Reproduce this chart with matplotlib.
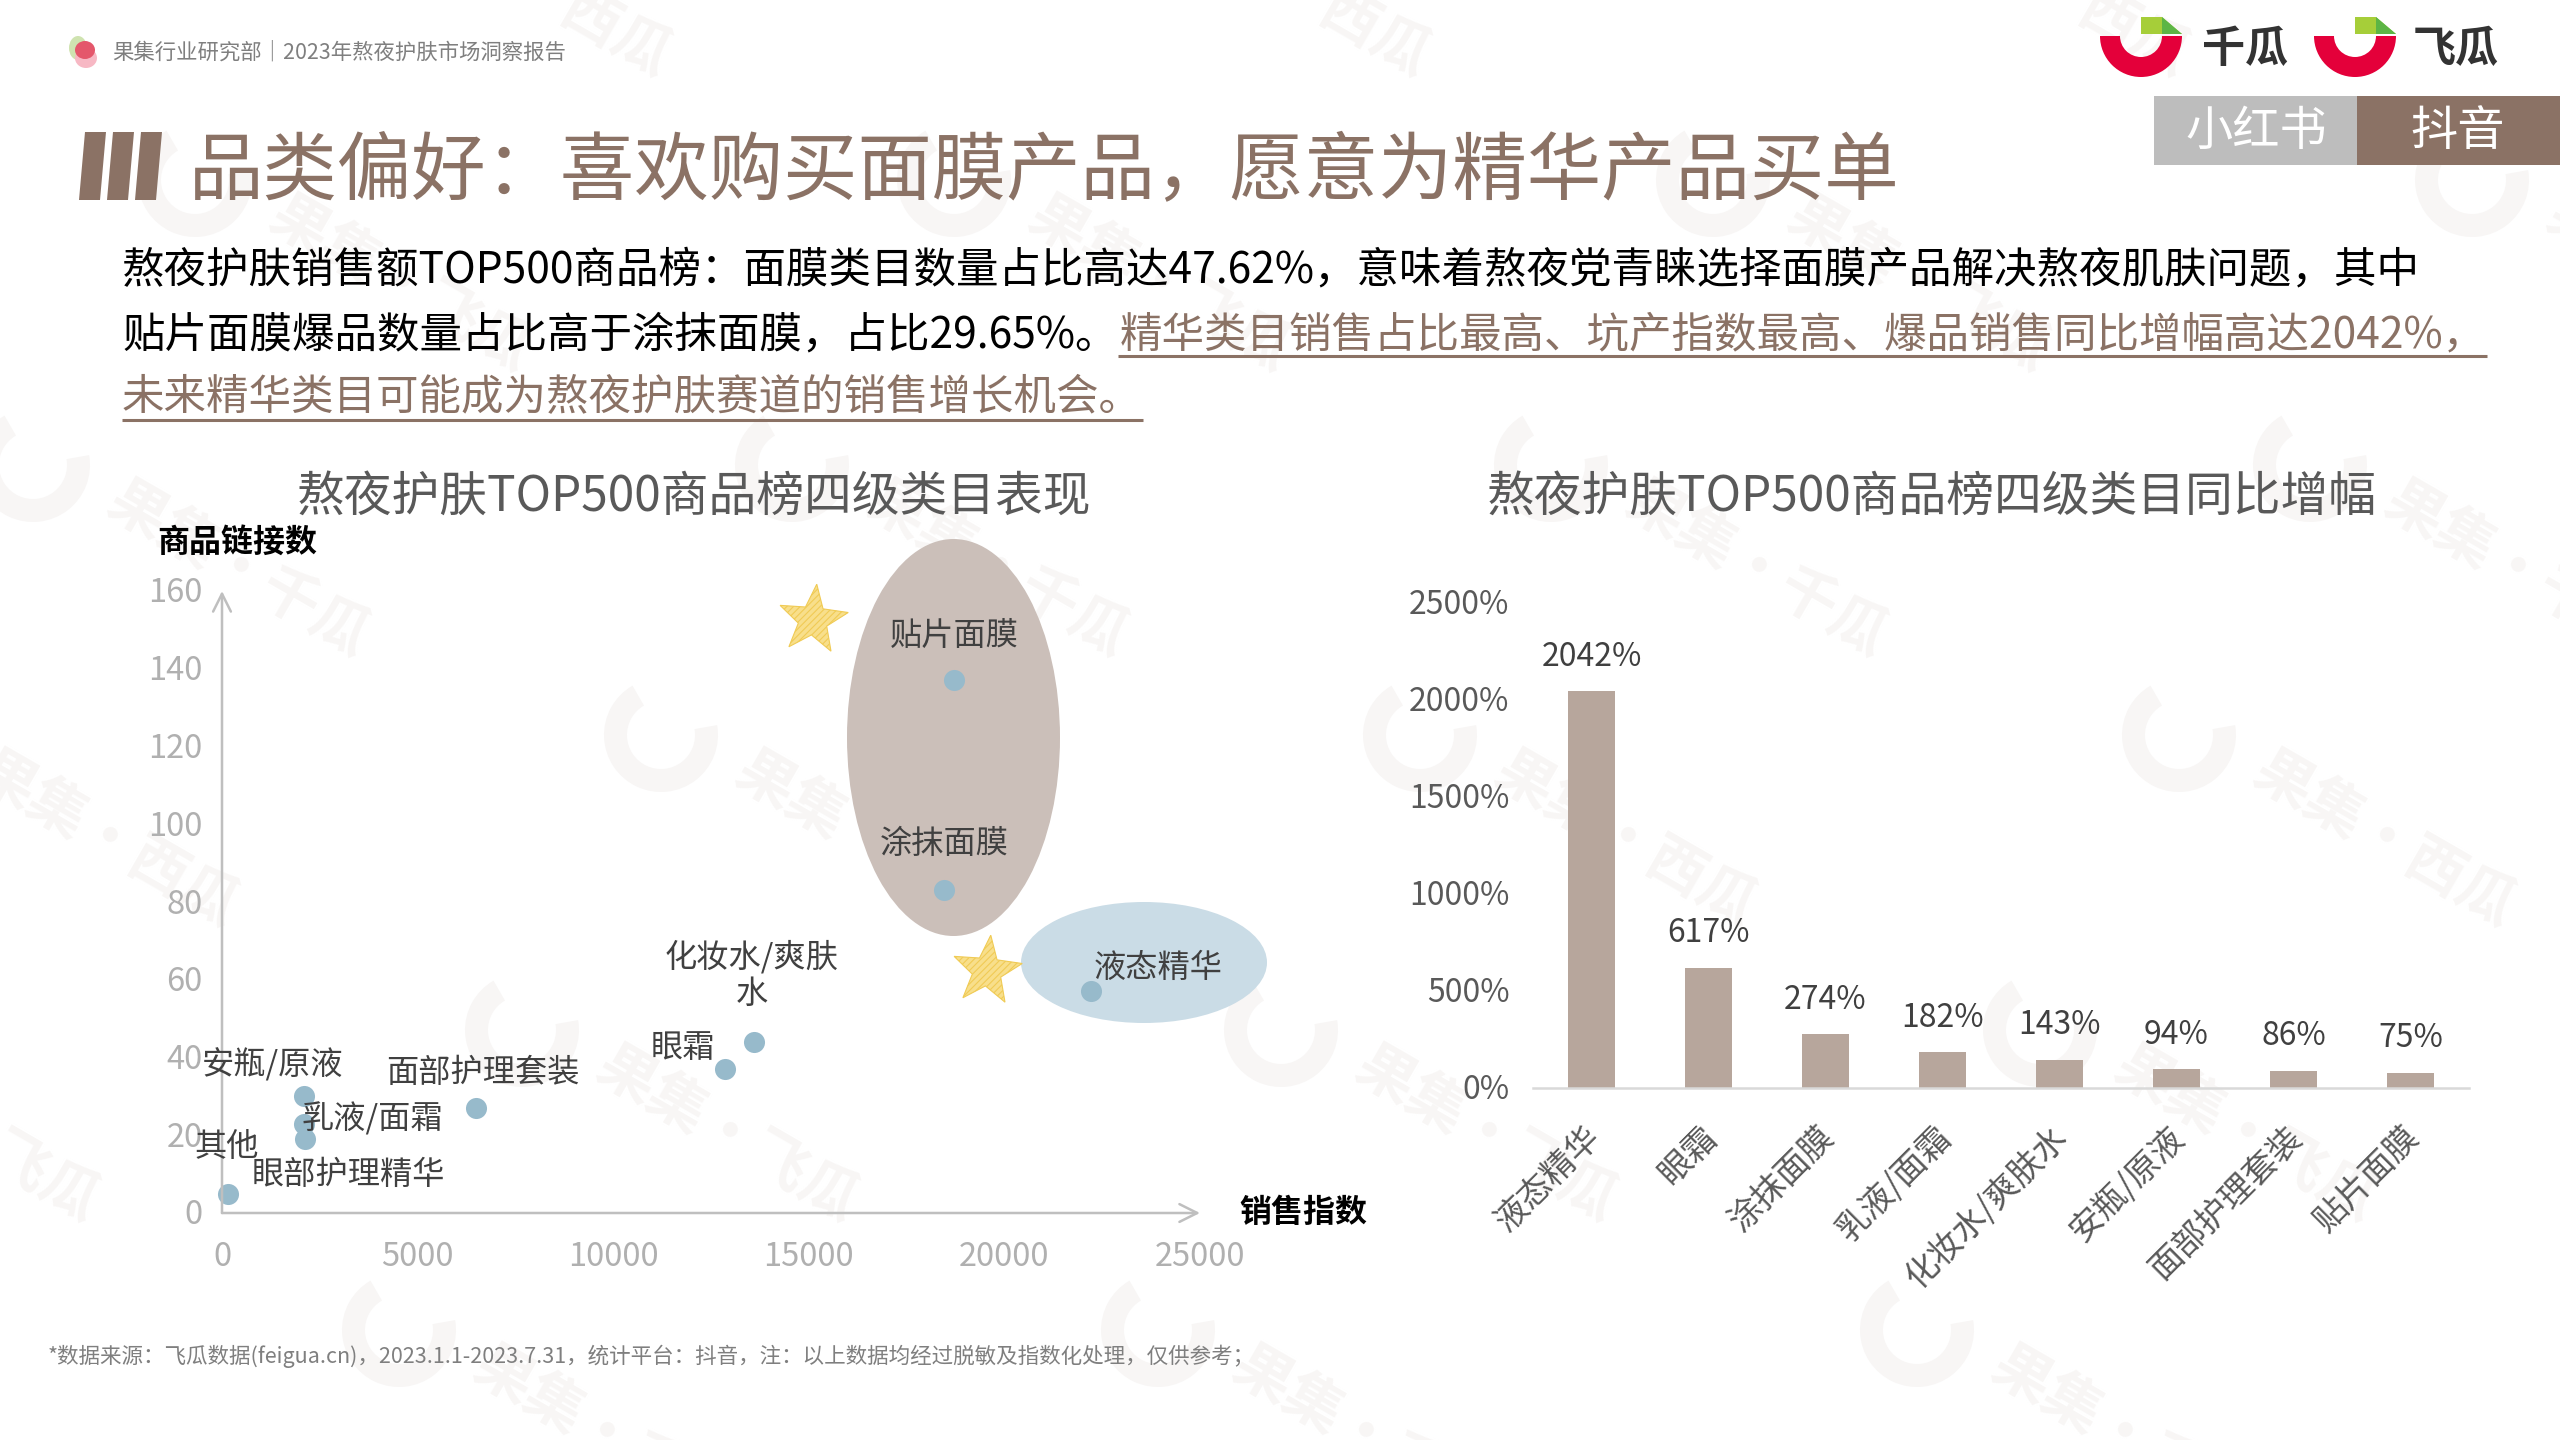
import numpy as np
import matplotlib
matplotlib.use('Agg')
import matplotlib.pyplot as plt
from matplotlib.patches import Ellipse, Polygon, Rectangle, Wedge
from matplotlib.transforms import Affine2D

plt.rcParams['font.family'] = ['Noto Sans CJK SC', 'DejaVu Sans']
plt.rcParams['hatch.linewidth'] = 0.8

# ---- data ----
scatter_names = ['贴片面膜', '涂抹面膜', '液态精华', '化妆水/爽肤\n水', '眼霜', '面部护理套装',
                 '安瓶/原液', '乳液/面霜', '眼部护理精华', '其他']
sales_index = [18720, 18460, 22210, 13590, 12870, 6490, 2100, 2100, 2120, 150]
link_counts = [137, 83, 57, 44, 37, 27, 30, 23, 19, 5]
label_px = [(954, 636), (944, 844), (1158, 968), (752, 975), (683, 1048), (483, 1073),
            (273, 1065), (372, 1119), (348, 1175), (227, 1147)]
scatter_xticks = [0, 5000, 10000, 15000, 20000, 25000]
scatter_yticks = [0, 20, 40, 60, 80, 100, 120, 140, 160]

bar_names = ['液态精华', '眼霜', '涂抹面膜', '乳液/面霜', '化妆水/爽肤水', '安瓶/原液', '面部护理套装', '贴片面膜']
bar_values = [2042, 617, 274, 182, 143, 94, 86, 75]
bar_yticks = [0, 500, 1000, 1500, 2000, 2500]

title = '品类偏好：喜欢购买面膜产品，愿意为精华产品买单'
body1 = '熬夜护肤销售额TOP500商品榜：面膜类目数量占比高达47.62%，意味着熬夜党青睐选择面膜产品解决熬夜肌肤问题，其中'
body2a = '贴片面膜爆品数量占比高于涂抹面膜，占比29.65%。'
body2b = '精华类目销售占比最高、坑产指数最高、爆品销售同比增幅高达2042%，'
body3 = '未来精华类目可能成为熬夜护肤赛道的销售增长机会。'
left_title = '熬夜护肤TOP500商品榜四级类目表现'
right_title = '熬夜护肤TOP500商品榜四级类目同比增幅'
header = '果集行业研究部｜2023年熬夜护肤市场洞察报告'
footnote = '*数据来源：飞瓜数据(feigua.cn)，2023.1.1-2023.7.31，统计平台：抖音，注：以上数据均经过脱敏及指数化处理，仅供参考；'

BROWN = '#8B7265'
W, H = 2560, 1440
fig = plt.figure(figsize=(25.6, 14.4), dpi=100, facecolor='white')

ov = fig.add_axes([0, 0, 1, 1], zorder=0)
ov.set_xlim(0, W)
ov.set_ylim(H, 0)
ov.axis('off')


def frame(x0, x1, y_top, y_bottom):
    return [x0 / W, 1 - y_bottom / H, (x1 - x0) / W, (y_bottom - y_top) / H]


# ---- watermarks ----
WM = '#F8F6F5'
rows = [(-115, 335, '西瓜'), (180, 195, '飞瓜'), (465, 33, '千瓜'), (735, -98, '西瓜'),
        (1030, -237, '飞瓜'), (1330, -360, '千瓜')]
for ay, ax0, word in rows:
    for k in range(5):
        ax_ = ax0 + k * 759
        ov.add_patch(Wedge((ax_, ay), 57, -10, 240, width=23, color=WM, zorder=0, lw=0))
        tx, ty = ax_ + 205, ay + 106
        if -120 < tx < W + 120 and -60 < ty < H + 60:
            ov.text(tx, ty, '果集·' + word, fontsize=42, fontweight='bold', color=WM,
                    rotation=-30, ha='center', va='center', rotation_mode='anchor', zorder=0, clip_on=True)

# ---- header ----
ov.add_patch(Ellipse((78, 48), 18, 24, color='#CFE3B0', lw=0))
ov.add_patch(Ellipse((86, 58), 22, 20, color='#F7B8C4', lw=0))
ov.add_patch(Ellipse((85, 50), 20, 18, color='#E4576B', lw=0))
ov.text(112, 53, header, fontsize=15.4, color='#7F7F7F', va='center', ha='left')


def logo(cx, word, tx):
    ov.add_patch(Wedge((cx, 36), 41, 0, 180, width=20, color='#E4003A', lw=0))
    ov.add_patch(Polygon([(cx, 17), (cx + 21, 17), (cx + 41, 34), (cx, 34)], color='#A6CE39', lw=0))
    ov.add_patch(Polygon([(cx + 21, 17), (cx + 41, 34), (cx + 21, 34)], color='#5CB545', lw=0))
    ov.text(tx, 49, word, fontsize=31, fontweight='bold', color='#333333', ha='center', va='center')


logo(2141, '千瓜', 2245)
logo(2355, '飞瓜', 2456)

ov.add_patch(Rectangle((2154, 96), 203, 69, color='#BDBDBD', lw=0))
ov.add_patch(Rectangle((2357, 96), 203, 69, color=BROWN, lw=0))
ov.text(2256, 132, '小红书', fontsize=34, color='white', ha='center', va='center')
ov.text(2458, 132, '抖音', fontsize=34, color='white', ha='center', va='center')

# ---- title ----
for x in (79, 107, 135):
    ov.add_patch(Polygon([(x + 6, 132), (x + 27, 132), (x + 21, 200), (x, 200)], color=BROWN, lw=0))
ov.text(189, 173, title, fontsize=53.6, color=BROWN, va='center', ha='left')

# ---- body ----
ov.text(122, 270, body1, fontsize=30.6, color='black', va='center', ha='left')
ov.text(122, 335, body2a, fontsize=30.6, color='black', va='center', ha='left')
ov.text(1120, 335, body2b, fontsize=30.6, color=BROWN, va='center', ha='left')
ov.text(122, 398, body3, fontsize=30.6, color=BROWN, va='center', ha='left')
ov.plot([1118, 2487], [356, 356], color=BROWN, lw=2.2, solid_capstyle='butt')
ov.plot([122, 1143], [420, 420], color=BROWN, lw=2.2, solid_capstyle='butt')

ov.text(694, 497, left_title, fontsize=34.4, color='#595959', ha='center', va='center')
ov.text(1932, 497, right_title, fontsize=34.4, color='#595959', ha='center', va='center')
ov.text(48, 1356, footnote, fontsize=15.5, color='#7F7F7F', ha='left', va='center')

# ---- scatter decorations ----
ov.add_patch(Ellipse((953.5, 737.5), 213, 397, color='#CBBFB9', lw=0, zorder=1))
ov.add_patch(Ellipse((1144, 962.5), 246, 121, color='#CADCE6', lw=0, zorder=1))
for cx, cy in ((813, 620), (987, 971)):
    ang = np.deg2rad(-90 + 6 + 36 * np.arange(10))
    rad = np.where(np.arange(10) % 2 == 0, 36, 15)
    pts = np.c_[cx + rad * np.cos(ang), cy + rad * np.sin(ang)]
    ov.add_patch(Polygon(pts, facecolor='#F8DF8B', edgecolor='#F0CB55', hatch='/////', lw=0.8, zorder=2))

# ---- scatter ----
ax = fig.add_axes(frame(222, 1200, 591, 1213), zorder=2)
ax.patch.set_alpha(0)
ax.scatter(sales_index, link_counts, s=230, color='#97BACB', lw=0, zorder=3, clip_on=False)
ax.set_xlim(0, 25000)
ax.set_ylim(0, 160)
for s in ax.spines.values():
    s.set_visible(False)
arrow = dict(arrowstyle='->', color='#BFBFBF', lw=1.8, mutation_scale=32, shrinkA=0, shrinkB=0)
ax.annotate('', xy=(1, 0), xytext=(0, 0), xycoords='axes fraction', arrowprops=arrow)
ax.annotate('', xy=(0, 1), xytext=(0, 0), xycoords='axes fraction', arrowprops=arrow)
ax.set_xticks(scatter_xticks)
ax.set_yticks(scatter_yticks)
ax.tick_params(length=0, labelsize=23.5, labelcolor='#B0B0B0', pad=20)
ax.tick_params(axis='y', pad=14)
for lab in ax.get_yticklabels():
    lab.set_transform(lab.get_transform() + Affine2D().translate(0, 1))
for name, (px, py) in zip(scatter_names, label_px):
    ax.text(px, py, name, transform=ov.transData, fontsize=23.2, color='#404040',
            ha='center', va='center', linespacing=1.15, zorder=5, clip_on=False)
ov.text(237, 543, '商品链接数', fontsize=23, fontweight='bold', color='black', ha='center', va='center')
ov.text(1303, 1213, '销售指数', fontsize=23, fontweight='bold', color='black', ha='center', va='center')

# ---- bars ----
bx = fig.add_axes(frame(1533, 2469, 602.5, 1087.6), zorder=2)
bx.patch.set_alpha(0)
pos = np.arange(len(bar_values))
bx.bar(pos, bar_values, width=0.4, color='#B7A69C', lw=0)
bx.set_xlim(-0.5, len(bar_values) - 0.5)
bx.set_ylim(0, 2500)
for k, s in bx.spines.items():
    s.set_visible(k == 'bottom')
bx.spines['bottom'].set_color('#D9D9D9')
bx.spines['bottom'].set_linewidth(1.8)
bx.set_yticks(bar_yticks)
bx.set_yticklabels([f'{v}%' for v in bar_yticks])
bx.set_xticks(pos)
bx.set_xticklabels(bar_names, rotation=45, ha='right', va='top', rotation_mode='anchor')
bx.tick_params(axis='y', length=0, labelsize=23, labelcolor='#595959', pad=17)
bx.tick_params(axis='x', length=0, labelsize=24, labelcolor='#595959', pad=26)
for lab in bx.get_yticklabels():
    lab.set_transform(lab.get_transform() + Affine2D().translate(0, 1))
for lab in bx.get_xticklabels():
    lab.set_transform(lab.get_transform() + Affine2D().translate(-9, 4))
for p, v in zip(pos, bar_values):
    bx.annotate(f'{v}%', (p, v), xytext=(0, 25), textcoords='offset points', ha='center', va='center',
                fontsize=23, color='#404040')

fig.savefig('out.png', dpi=100, facecolor='white')
